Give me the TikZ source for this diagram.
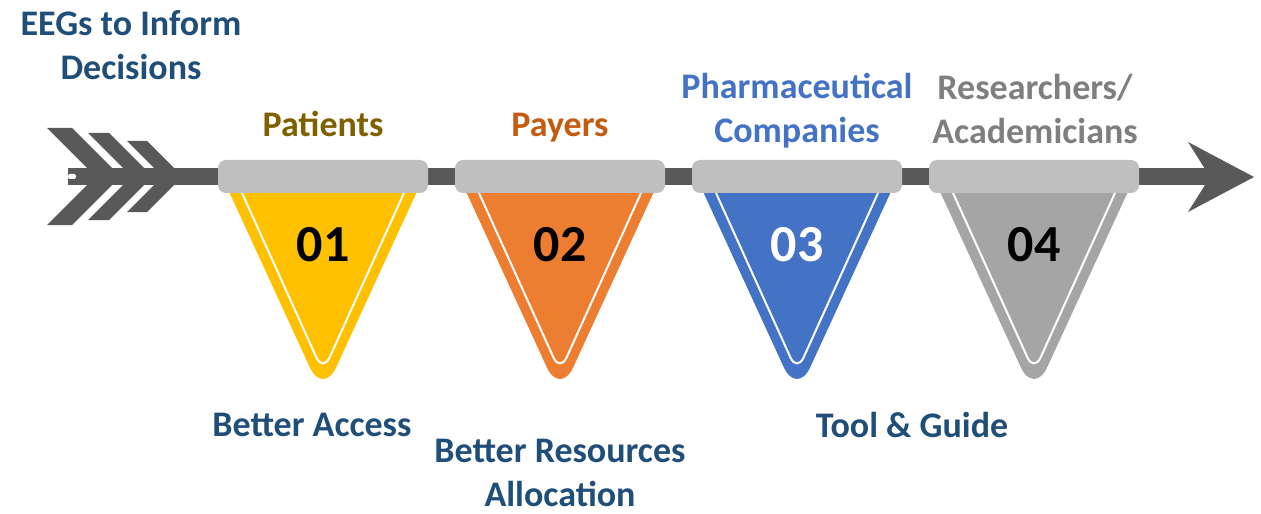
\documentclass[tikz,border=0pt]{standalone}
\usepackage{fontspec}
\setmainfont{Carlito}
\definecolor{shaftgray}{RGB}{89, 89, 89}
\definecolor{bargray}{RGB}{191, 191, 191}
\definecolor{flagyellow}{RGB}{255, 192, 0}
\definecolor{flagorange}{RGB}{237, 125, 49}
\definecolor{flagblue}{RGB}{68, 114, 196}
\definecolor{flaggray}{RGB}{165, 165, 165}
\definecolor{titleblue}{RGB}{31, 78, 121}
\definecolor{patbrown}{RGB}{127, 96, 0}
\definecolor{payorange}{RGB}{197, 90, 17}
\definecolor{resgray}{RGB}{127, 127, 127}
\usepackage{tikz}
\usetikzlibrary{positioning}

\tikzset{
  bar/.style={fill=bargray, rounded corners=4pt, minimum width=105pt, minimum height=16.5pt, inner sep=0pt},
  flag/.style={rounded corners=16pt},
  flagline/.style={draw=white, line width=1pt, rounded corners=8pt},
  num/.style={font=\fontsize{26}{30}\selectfont\bfseries, inner sep=0pt},
  lbl/.style={font=\fontsize{18}{22}\selectfont\bfseries, align=center, inner sep=0pt}
}

\begin{document}
\begin{tikzpicture}[x=0.5pt, y=-0.5pt]
  \useasboundingbox (0,0) rectangle (1261,513);

  % arrow: shaft, feathers, head
  \fill[shaftgray] (68,168) rectangle (1212,185);
  \fill[white, rounded corners=1pt] (68,174) rectangle (76,179);
  \fill[shaftgray] (47,128) -- (72,128) -- (120.5,176.5) -- (72,225) -- (47,225) -- (95.5,176.5) -- cycle;
  \fill[shaftgray] (88,133) -- (109,133) -- (152.5,176.5) -- (109,220) -- (88,220) -- (131.5,176.5) -- cycle;
  \fill[shaftgray] (127,141) -- (147,141) -- (182.5,176.5) -- (147,212) -- (127,212) -- (162.5,176.5) -- cycle;
  \fill[shaftgray] (1188,142) -- (1254,177) -- (1188,212) -- (1210,177) -- cycle;

  % flags
  \fill[flagyellow, flag] (226,185) -- (323,396) -- (420,185);
  \draw[flagline] (242,193) -- (323,372) -- (404,193);
  \fill[flagorange, flag] (463,185) -- (560,396) -- (657,185);
  \draw[flagline] (479,193) -- (560,372) -- (641,193);
  \fill[flagblue, flag] (700,185) -- (797,396) -- (894,185);
  \draw[flagline] (716,193) -- (797,372) -- (878,193);
  \fill[flaggray, flag] (937,185) -- (1034,396) -- (1131,185);
  \draw[flagline] (953,193) -- (1034,372) -- (1115,193);

  \node[bar] (bar1) at (323,176.5) {};
  \node[bar] (bar2) at (560,176.5) {};
  \node[bar] (bar3) at (797,176.5) {};
  \node[bar] (bar4) at (1034,176.5) {};

  \node[num] (num1) at (323,245) {01};
  \node[num] (num2) at (560,245) {02};
  \node[num, text=white] (num3) at (797,245) {03};
  \node[num] (num4) at (1034,245) {04};

  % labels
  \node[lbl, text=titleblue] (title) at (131,45) {EEGs to Inform\\Decisions};
  \node[lbl, text=patbrown, anchor=base] (patients) at (323,137) {Patients};
  \node[lbl, text=payorange, anchor=base] (payers) at (560,137) {Payers};
  \node[lbl, text=flagblue] (pharma) at (797,111) {Pharmaceutical\\Companies};
  \node[lbl, text=resgray] (research) at (1035,109) {Researchers/\\Academicians};
  \node[lbl, text=titleblue] (access) at (312,425) {Better Access};
  \node[lbl, text=titleblue] (resources) at (560,473) {Better Resources\\Allocation};
  \node[lbl, text=titleblue] (tool) at (912,425) {Tool \& Guide};
\end{tikzpicture}
\end{document}
